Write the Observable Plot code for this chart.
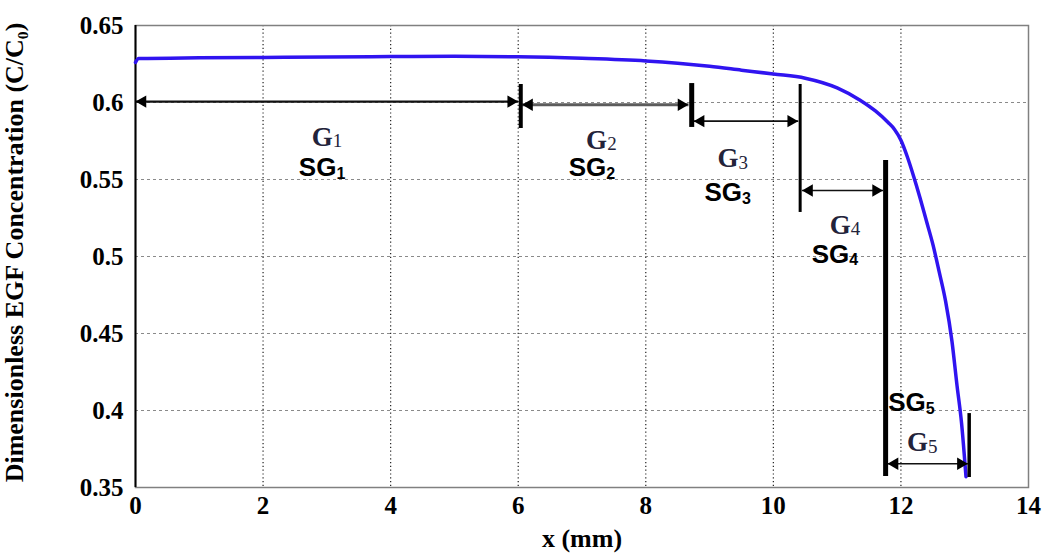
<!DOCTYPE html>
<html>
<head>
<meta charset="utf-8">
<script src="https://cdn.jsdelivr.net/npm/d3@7"></script>
<script src="https://cdn.jsdelivr.net/npm/@observablehq/plot@0.6"></script>
<style>
  html, body { margin: 0; padding: 0; background: #fff; }
  #chart { width: 1050px; height: 560px; }
</style>
</head>
<body>
<div id="chart"></div>
<script>
// ---- data ----
const xTicks = [0, 2, 4, 6, 8, 10, 12, 14];
const yTicks = [0.35, 0.4, 0.45, 0.5, 0.55, 0.6, 0.65];
const yTickLabels = ["0.35", "0.4", "0.45", "0.5", "0.55", "0.6", "0.65"];
const xTitle = "x (mm)";
const yTitle = "Dimensionless EGF Concentration (C/C\u2080)";

// concentration profile C/C0 along x (mm)
const curveX = [0, 0.05, 1, 2, 3, 4, 5, 6, 7, 8, 8.5, 9, 9.5, 10, 10.5, 11, 11.36, 11.6, 11.8, 11.9, 12.0, 12.1, 12.2, 12.3, 12.4, 12.5, 12.6, 12.7, 12.8, 12.88, 12.95, 13.02];
const curveY = [0.626, 0.6285, 0.629, 0.6293, 0.6296, 0.6298, 0.63, 0.6297, 0.6287, 0.627, 0.6255, 0.6235, 0.621, 0.6185, 0.6158, 0.6095, 0.6015, 0.5945, 0.587, 0.5825, 0.5755, 0.5648, 0.552, 0.538, 0.523, 0.508, 0.490, 0.471, 0.445, 0.416, 0.392, 0.357];

// span arrows (double headed)
const spanStart = [0, 6.06, 8.75, 10.45, 11.79];
const spanEnd   = [6.0, 8.67, 10.39, 11.72, 13.05];
const spanY     = [0.6006, 0.5985, 0.5879, 0.5429, 0.3654];
const spanColor = ["#111", "#5c5c5c", "#111", "#111", "#111"];
const spanWidth = [2.2, 3, 1.6, 1.6, 1.6];

// vertical boundary bars
const barX      = [6.04, 8.72, 10.42, 11.76, 13.07];
const barTop    = [0.6117, 0.6123, 0.6117, 0.5623, 0.398];
const barBottom = [0.5831, 0.5838, 0.5286, 0.3571, 0.3565];
const barWidth  = [4, 5, 3, 5, 3.5];

// group labels
const groupNum = ["1", "2", "3", "4", "5"];
const gX  = [3.0, 7.3, 9.36, 11.12, 12.33];
const gY  = [0.5775, 0.5755, 0.5635, 0.5205, 0.3792];
const sgX = [3.04, 7.27, 9.4, 11.08, 12.28];
const sgY = [0.5575, 0.5575, 0.5412, 0.5015, 0.4052];

// ---- build tables ----
const curve = curveX.map((x, i) => ({x, y: curveY[i]}));
const spans = spanStart.map((s, i) => ({x1: s, x2: spanEnd[i], y: spanY[i], c: spanColor[i], w: spanWidth[i]}));
const bars = barX.map((x, i) => ({x, y1: barBottom[i], y2: barTop[i], w: barWidth[i]}));
const gLabels = groupNum.map((n, i) => ({x: gX[i], y: gY[i], n}));
const sgLabels = groupNum.map((n, i) => ({x: sgX[i], y: sgY[i], n}));

const serif = "'Liberation Serif', 'Times New Roman', serif";
const sans = "'Liberation Sans', Arial, sans-serif";

const chart = Plot.plot({
  width: 1050,
  height: 560,
  marginLeft: 135,
  marginRight: 22,
  marginTop: 25,
  marginBottom: 73,
  style: {fontFamily: serif, fontSize: "25px", fontWeight: "bold", color: "#000", background: "#fff"},
  x: {
    domain: [0, 14],
    ticks: xTicks,
    tickSize: 0,
    tickPadding: 9,
    label: null,
    tickFormat: d => String(d)
  },
  y: {
    domain: [0.35, 0.65],
    ticks: yTicks,
    tickSize: 0,
    tickPadding: 12,
    label: null,
    tickFormat: d => yTickLabels[yTicks.findIndex(t => Math.abs(t - d) < 1e-9)]
  },
  marks: [
    // grid
    Plot.ruleX(xTicks.slice(1, -1), {stroke: "#222", strokeWidth: 1.2, strokeDasharray: "1.2,2.6"}),
    Plot.ruleY(yTicks.slice(1, -1), {stroke: "#8a8a8a", strokeWidth: 1.2, strokeDasharray: "3,3"}),
    Plot.frame({stroke: "#808080", strokeWidth: 1.5}),
    Plot.ruleX([0], {stroke: "#000", strokeWidth: 2}),
    // curve
    Plot.line(curve, {x: "x", y: "y", stroke: "#3014f0", strokeWidth: 3.5, curve: "monotone-x"}),
    // spans
    Plot.link(spans, {x1: "x1", x2: "x2", y1: "y", y2: "y", stroke: d => d.c, strokeWidth: d => d.w}),
    Plot.dot(spans, {x: "x1", y: "y", symbol: "triangle", r: 4.6, rotate: -90, dx: 7.2, fill: "#000", stroke: "none"}),
    Plot.dot(spans, {x: "x2", y: "y", symbol: "triangle", r: 4.6, rotate: 90, dx: -7.2, fill: "#000", stroke: "none"}),
    // bars
    Plot.ruleX(bars, {x: "x", y1: "y1", y2: "y2", stroke: "#000", strokeWidth: d => d.w}),
    // labels G_n (serif) and SG_n (sans)
    Plot.text(gLabels, {x: "x", y: "y", text: () => "G", textAnchor: "end", dx: 6, fontFamily: serif, fontSize: 27, fontWeight: "bold", fill: "#23233a"}),
    Plot.text(gLabels, {x: "x", y: "y", text: "n", textAnchor: "start", dx: 6, dy: 4, fontFamily: serif, fontSize: 19, fontWeight: "normal", fill: "#23233a"}),
    Plot.text(sgLabels, {x: "x", y: "y", text: () => "SG", textAnchor: "end", dx: 7, fontFamily: sans, fontSize: 26, fontWeight: "bold", fill: "#000"}),
    Plot.text(sgLabels, {x: "x", y: "y", text: "n", textAnchor: "start", dx: 7, dy: 6, fontFamily: sans, fontSize: 16, fontWeight: "bold", fill: "#000"}),
    // axis titles
    Plot.text([xTitle], {frameAnchor: "bottom", dy: 59, text: d => d, fontFamily: serif, fontSize: 26, fontWeight: "bold", fill: "#000"}),
    Plot.text([yTitle], {frameAnchor: "left", textAnchor: "middle", dx: -121, dy: -4, rotate: -90, text: d => d, fontFamily: serif, fontSize: 26, fontWeight: "bold", fill: "#000"})
  ]
});
document.getElementById("chart").appendChild(chart);
</script>
</body>
</html>
